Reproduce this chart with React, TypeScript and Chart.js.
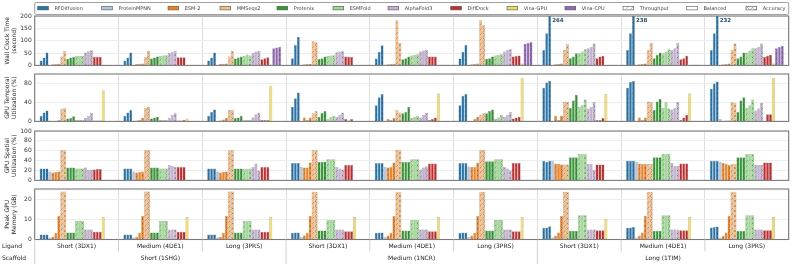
import React, { useEffect, useRef } from 'react';
import { Chart, registerables } from 'chart.js';
Chart.register(...registerables);

// ---------- categories ----------
const ligandLabels = ['Short (3DX1)', 'Medium (4DE1)', 'Long (3PRS)', 'Short (3DX1)', 'Medium (4DE1)', 'Long (3PRS)', 'Short (3DX1)', 'Medium (4DE1)', 'Long (3PRS)'];
const scaffoldLabels = ['Short (1SHG)', 'Medium (1NCR)', 'Long (1TIM)'];
const toolNames = ['RFDiffusion', 'ProteinMPNN', 'ESM-2', 'MMSeqs2', 'Protenix', 'ESMFold', 'AlphaFold3', 'DiffDock', 'Vina-GPU', 'Vina-CPU'];
const toolColors = ['#1f77b4', '#aec7e8', '#ff7f0e', '#ffbb78', '#2ca02c', '#98df8a', '#c5b0d5', '#d62728', '#f7dc5c', '#9467bd'];
const modeNames = ['Throughput', 'Balanced', 'Accuracy'];
// modes used by each tool's bars (0 Throughput, 1 Balanced, 2 Accuracy)
const toolModes = [[0, 1, 2], [1], [0, 1, 2], [0, 2], [0, 1, 2], [0, 1, 2], [0, 1, 2], [0, 1, 2], [1], [0, 1, 2]];

// ---------- Wall clock time (s), per group, per mode ----------
const wallRFDiffusion = [[20, 32, 52], [20, 32, 52], [20, 32, 52], [29, 83, 116], [28, 55, 82], [28, 55, 83], [62, 130, 264], [62, 130, 238], [62, 130, 232]];
const wallProteinMPNN = [[1], [1], [1], [1], [1], [1], [1], [1], [1]];
const wallESM2 = [[5, 6, 7], [6, 7, 8], [6, 7, 8], [5, 6, 7], [5, 6, 7], [5, 6, 8], [5, 6, 8], [5, 6, 8], [5, 6, 8]];
const wallMMseqs2 = [[36, 58], [35, 58], [36, 58], [98, 96], [183, 92], [183, 163], [62, 88], [63, 92], [63, 89]];
const wallProtenix = [[27, 32, 35], [28, 32, 36], [28, 32, 36], [27, 29, 36], [25, 29, 36], [27, 29, 36], [29, 36, 49], [29, 43, 52], [29, 36, 52]];
const wallESMFold = [[39, 39, 39], [38, 40, 41], [38, 44, 40], [39, 40, 41], [40, 43, 45], [40, 43, 45], [49, 56, 65], [49, 56, 65], [52, 60, 69]];
const wallAlphaFold3 = [[52, 57, 61], [50, 55, 58], [50, 56, 58], [53, 56, 57], [56, 60, 63], [56, 63, 65], [69, 76, 89], [62, 69, 92], [69, 76, 89]];
const wallDiffDock = [[35, 35, 35], [33, 33, 33], [25, 29, 33], [36, 35, 34], [36, 36, 36], [36, 38, 40], [29, 36, 39], [25, 29, 39], [34, 39, 43]];
const wallVinaGPU = [[1], [1], [4], [1], [1], [8], [1], [1], [8]];
const wallVinaCPU = [[2, 2, 2], [2, 2, 2], [69, 72, 76], [2, 2, 2], [3, 3, 3], [88, 92, 95], [2, 2, 2], [3, 3, 3], [69, 76, 80]];

// ---------- GPU temporal utilization (%) ----------
const tempRFDiffusion = [[12, 19, 23], [12, 19, 24], [12, 20, 25], [31, 49, 61], [34, 51, 58], [34, 54, 58], [71, 82, 86], [71, 83, 85], [69, 80, 84]];
const tempProteinMPNN = [[1], [1], [1], [1], [1], [1], [1], [1], [5]];
const tempESM2 = [[1, 1, 3], [2, 3, 7], [2, 4, 7], [8, 3, 8], [5, 3, 7], [1, 5, 10], [12, 3, 12], [8, 3, 8], [1, 2, 2]];
const tempMMseqs2 = [[26, 29], [29, 31], [24, 24], [17, 22], [24, 19], [14, 17], [41, 41], [42, 41], [41, 39]];
const tempProtenix = [[6, 7, 11], [6, 8, 10], [7, 8, 12], [10, 18, 22], [17, 20, 31], [17, 22, 25], [29, 44, 56], [24, 42, 48], [20, 44, 51]];
const tempESMFold = [[3, 3, 3], [3, 3, 3], [3, 3, 3], [5, 10, 12], [7, 10, 12], [5, 8, 14], [31, 34, 46], [29, 41, 27], [29, 34, 46]];
const tempAlphaFold3 = [[7, 12, 18], [7, 14, 18], [8, 15, 19], [10, 14, 18], [8, 14, 18], [10, 14, 20], [27, 31, 41], [25, 29, 41], [23, 27, 39]];
const tempDiffDock = [[2, 2, 2], [2, 2, 3], [3, 3, 3], [5, 2, 5], [3, 5, 8], [6, 8, 10], [3, 3, 7], [3, 8, 14], [1, 15, 15]];
const tempVinaGPU = [[65], [6], [75], [0], [59], [92], [58], [59], [92]];
const tempVinaCPU = [[null, null, null], [null, null, null], [null, null, null], [null, null, null], [null, null, null], [null, null, null], [null, null, null], [null, null, null], [null, null, null]];

// ---------- GPU spatial utilization (%) ----------
const spatRFDiffusion = [[24, 24, 24], [24, 24, 24], [24, 24, 24], [35, 35, 35], [35, 35, 35], [35, 35, 35], [40, 38, 40], [40, 40, 40], [40, 40, 40]];
const spatProteinMPNN = [[18], [18], [18], [27], [27], [28], [40], [38], [38]];
const spatESM2 = [[16, 17, 18], [16, 17, 18], [16, 17, 18], [26, 26, 36], [26, 27, 36], [27, 27, 36], [34, 33, 32], [34, 33, 33], [35, 33, 31]];
const spatMMseqs2 = [[61, 61], [61, 61], [61, 61], [62, 62], [62, 62], [62, 62], [32, 32], [33, 33], [33, 33]];
const spatProtenix = [[26, 26, 26], [26, 26, 26], [24, 24, 24], [38, 38, 38], [38, 38, 38], [39, 39, 39], [47, 47, 47], [47, 47, 47], [47, 47, 47]];
const spatESMFold = [[24, 24, 24], [24, 24, 24], [23, 23, 24], [43, 43, 43], [43, 43, 43], [43, 43, 43], [54, 54, 54], [54, 54, 54], [54, 54, 54]];
const spatAlphaFold3 = [[26, 21, 22], [31, 29, 27], [27, 34, 20], [27, 24, 22], [22, 26, 28], [27, 24, 20], [33, 33, 21], [35, 29, 29], [32, 31, 31]];
const spatDiffDock = [[22, 23, 23], [27, 27, 27], [27, 27, 27], [31, 31, 31], [34, 34, 34], [35, 35, 35], [32, 32, 32], [34, 34, 34], [36, 36, 36]];
const spatVinaGPU = [[null], [null], [null], [null], [null], [null], [null], [null], [null]];
const spatVinaCPU = [[null, null, null], [null, null, null], [null, null, null], [null, null, null], [null, null, null], [null, null, null], [null, null, null], [null, null, null], [null, null, null]];

// ---------- Peak GPU memory (GB) ----------
const memRFDiffusion = [[2.5, 2.5, 2.5], [2.5, 2.5, 2.5], [2.5, 2.5, 2.5], [3.3, 3.5, 3.5], [3.3, 3.5, 3.5], [3.3, 3.5, 3.5], [5.8, 6, 6.6], [5.8, 6, 6.2], [6, 6.2, 6.4]];
const memProteinMPNN = [[1], [1], [1], [1.3], [1.3], [1.3], [1], [1], [1]];
const memESM2 = [[1.3, 3.3, 11.6], [1.3, 3.3, 11.6], [1.3, 3.3, 11.6], [2, 3.3, 11.6], [2, 3.3, 11.6], [2, 3.3, 11.6], [1.8, 3.5, 11.6], [1.8, 3.5, 11.6], [1.8, 3.5, 11.6]];
const memMMseqs2 = [[23.8, 23.8], [23.8, 23.8], [23.8, 23.8], [23.6, 23.6], [23.6, 23.6], [23.6, 23.6], [23.6, 23.6], [23.6, 23.6], [23.6, 23.6]];
const memProtenix = [[3.5, 3.5, 3.5], [3.5, 3.5, 3.5], [3.5, 3.5, 3.5], [4.5, 4.5, 4.5], [4.5, 4.5, 4.5], [4.5, 4.5, 4.5], [4.3, 4.3, 4.3], [4.3, 4.3, 4.3], [4.3, 4.3, 4.3]];
const memESMFold = [[9.1, 9.1, 9.1], [9.1, 9.1, 9.1], [9.1, 9.1, 9.1], [9.6, 9.6, 9.6], [9.6, 9.6, 9.6], [9.6, 9.6, 9.6], [12, 12, 12], [12, 12, 12], [12, 12, 12]];
const memAlphaFold3 = [[5, 5, 5], [5, 5, 5], [5, 5, 5], [5, 5, 5], [5, 5, 5], [5, 5, 5], [5, 5, 5], [5, 5, 5], [5, 5, 5]];
const memDiffDock = [[3.8, 3.8, 3.8], [3.8, 3.8, 3.8], [3.8, 3.8, 3.8], [4.1, 4.1, 4.1], [4.1, 4.1, 4.1], [4.1, 4.1, 4.1], [4.6, 4.6, 4.6], [4.6, 4.6, 4.6], [4.6, 4.6, 4.6]];
const memVinaGPU = [[11.2], [11.2], [11.2], [11.2], [11.2], [11.2], [10.2], [11.2], [11.2]];
const memVinaCPU = [[null, null, null], [null, null, null], [null, null, null], [null, null, null], [null, null, null], [null, null, null], [null, null, null], [null, null, null], [null, null, null]];

// ---------- axis settings ----------
const panelTitles = [['Wall Clock Time', '(second)'], ['GPU Temporal', 'Utilization (%)'], ['GPU Spatial', 'Utilization (%)'], ['Peak GPU', 'Memory (GB)']];
const panelMax = [200, 100, 100, 25];
const panelStep = [50, 20, 20, 10];

const metricSets = [
  [wallRFDiffusion, wallProteinMPNN, wallESM2, wallMMseqs2, wallProtenix, wallESMFold, wallAlphaFold3, wallDiffDock, wallVinaGPU, wallVinaCPU],
  [tempRFDiffusion, tempProteinMPNN, tempESM2, tempMMseqs2, tempProtenix, tempESMFold, tempAlphaFold3, tempDiffDock, tempVinaGPU, tempVinaCPU],
  [spatRFDiffusion, spatProteinMPNN, spatESM2, spatMMseqs2, spatProtenix, spatESMFold, spatAlphaFold3, spatDiffDock, spatVinaGPU, spatVinaCPU],
  [memRFDiffusion, memProteinMPNN, memESM2, memMMseqs2, memProtenix, memESMFold, memAlphaFold3, memDiffDock, memVinaGPU, memVinaCPU],
];

// ---------- layout (canvas placement) ----------
const W = 793;
const PLOT_LEFT = 34.7;
const PLOT_RIGHT = 788.7;
const canvases = [
  { top: 0, height: 72, padTop: 16, padBottom: 6, xH: 0 },
  { top: 66, height: 62, padTop: 8, padBottom: 5, xH: 0 },
  { top: 123, height: 64, padTop: 8, padBottom: 5, xH: 0 },
  { top: 181, height: 83, padTop: 8, padBottom: 0, xH: 24.5 },
];
const FONT = 'DejaVu Sans';
const legendX = [37.7, 101.7, 168, 220, 277, 333, 388, 450.7, 507, 565, 623, 686.7, 746];

function makePattern(ctx: CanvasRenderingContext2D, color: string, mode: number): any {
  if (mode === 1) return color;
  const c = document.createElement('canvas');
  c.width = 5; c.height = 5;
  const x = c.getContext('2d')!;
  x.fillStyle = color;
  x.fillRect(0, 0, 5, 5);
  x.strokeStyle = 'rgba(40,40,40,0.45)';
  x.lineWidth = 0.6;
  x.beginPath();
  x.moveTo(0, 5); x.lineTo(5, 0);
  x.moveTo(-2.5, 2.5); x.lineTo(2.5, -2.5);
  x.moveTo(2.5, 7.5); x.lineTo(7.5, 2.5);
  if (mode === 2) {
    x.moveTo(0, 0); x.lineTo(5, 5);
    x.moveTo(-2.5, 2.5); x.lineTo(2.5, 7.5);
    x.moveTo(2.5, -2.5); x.lineTo(7.5, 2.5);
  }
  x.stroke();
  return ctx.createPattern(c, 'repeat');
}

function buildDatasets(ctx: CanvasRenderingContext2D, metric: (number | null)[][][]) {
  const ds: any[] = [];
  toolNames.forEach((tool, t) => {
    toolModes[t].forEach((mode, k) => {
      ds.push({
        label: `${tool} ${modeNames[mode]}`,
        data: metric[t].map((g) => (g[k] === undefined ? null : g[k])),
        backgroundColor: makePattern(ctx, toolColors[t], mode),
        borderColor: 'rgba(70,70,70,0.55)',
        borderWidth: 0.5,
      });
    });
  });
  return ds;
}

const framePlugin = {
  id: 'frame',
  afterDraw(chart: any) {
    const { ctx, chartArea: a } = chart;
    ctx.save();
    ctx.strokeStyle = '#7a7a7a';
    ctx.lineWidth = 1.1;
    ctx.strokeRect(a.left, a.top, a.right - a.left, a.bottom - a.top);
    ctx.restore();
  },
};

const legendPlugin = {
  id: 'topLegend',
  afterDraw(chart: any) {
    const { ctx } = chart;
    ctx.save();
    ctx.strokeStyle = '#a0a0a0';
    ctx.lineWidth = 1;
    ctx.beginPath();
    ctx.roundRect(PLOT_LEFT, 2.5, PLOT_RIGHT - PLOT_LEFT, 12, 1.5);
    ctx.stroke();
    const items = [
      ...toolNames.map((n, i) => ({ label: n, fill: toolColors[i] as any })),
      ...modeNames.map((n, i) => ({ label: n, fill: makePattern(ctx, '#ffffff', i) })),
    ];
    ctx.font = `5px "${FONT}"`;
    ctx.textBaseline = 'middle';
    items.forEach((it, i) => {
      const x = legendX[i];
      ctx.fillStyle = it.fill;
      ctx.fillRect(x, 6.3, 10.7, 3.6);
      ctx.strokeStyle = '#555';
      ctx.lineWidth = 0.6;
      ctx.strokeRect(x, 6.3, 10.7, 3.6);
      ctx.fillStyle = '#444';
      ctx.fillText(it.label, x + 16.7, 8.3);
    });
    ctx.restore();
  },
};

const overflowPlugin = {
  id: 'overflow',
  afterDatasetsDraw(chart: any) {
    const { ctx, chartArea: a } = chart;
    const max = chart.scales.y.max;
    ctx.save();
    ctx.font = `bold 5.5px "${FONT}"`;
    ctx.fillStyle = '#1f4e79';
    ctx.textBaseline = 'middle';
    chart.data.datasets.forEach((ds: any, di: number) => {
      const meta = chart.getDatasetMeta(di);
      ds.data.forEach((v: any, j: number) => {
        if (v !== null && v > max) {
          const el = meta.data[j];
          ctx.fillText(String(v), el.x + el.width / 2 + 1, a.top + 5);
        }
      });
    });
    ctx.restore();
  },
};

const bottomPlugin = {
  id: 'bottomLabels',
  afterDraw(chart: any) {
    const { ctx, chartArea: a, scales } = chart;
    const x = scales.x;
    const step = (a.right - a.left) / 9;
    ctx.save();
    ctx.strokeStyle = '#cfcfcf';
    ctx.lineWidth = 1;
    for (let i = 0; i < 9; i++) {
      const xx = a.left + i * step;
      const bottom = i % 3 === 0 ? chart.height : a.bottom + 12;
      ctx.beginPath();
      ctx.moveTo(xx, a.bottom);
      ctx.lineTo(xx, bottom);
      ctx.stroke();
    }
    ctx.font = `6px "${FONT}"`;
    ctx.fillStyle = '#222';
    ctx.textBaseline = 'middle';
    ctx.textAlign = 'left';
    ctx.fillText('Ligand', 2, a.bottom + 6.6);
    ctx.fillText('Scaffold', 2, a.bottom + 18.6);
    ctx.textAlign = 'center';
    scaffoldLabels.forEach((s, i) => {
      ctx.fillText(s, x.getPixelForValue(i * 3 + 1), a.bottom + 18.6);
    });
    ctx.restore();
  },
};

function makeConfig(ctx: CanvasRenderingContext2D, p: number): any {
  const c = canvases[p];
  const isLast = p === 3;
  const plugins: any[] = [framePlugin];
  if (p === 0) plugins.push(legendPlugin, overflowPlugin);
  if (isLast) plugins.push(bottomPlugin);
  return {
    type: 'bar',
    data: { labels: ligandLabels, datasets: buildDatasets(ctx, metricSets[p] as any) },
    plugins,
    options: {
      animation: false,
      responsive: false,
      devicePixelRatio: 1,
      events: [],
      layout: { padding: { left: 0, right: W - PLOT_RIGHT, top: c.padTop, bottom: c.padBottom } },
      datasets: { bar: { categoryPercentage: 0.883, barPercentage: 1 } },
      plugins: { legend: { display: false }, tooltip: { enabled: false } },
      scales: {
        x: {
          type: 'category',
          offset: true,
          grid: { offset: true, color: '#dedede', lineWidth: 1, drawTicks: false },
          border: { display: false },
          ticks: {
            display: isLast,
            autoSkip: false,
            maxRotation: 0,
            padding: 3,
            color: '#222',
            font: { family: FONT, size: 6 },
          },
          afterFit: (s: any) => { s.height = c.xH; },
        },
        y: {
          min: 0,
          max: panelMax[p],
          ticks: { stepSize: panelStep[p], color: '#333', padding: 3, font: { family: FONT, size: 6 } },
          afterBuildTicks: (s: any) => { s.ticks = s.ticks.filter((t: any) => t.value % panelStep[p] === 0); },
          grid: { color: '#ededed', lineWidth: 1, drawTicks: false },
          border: { display: false },
          title: {
            display: true,
            text: panelTitles[p],
            color: '#222',
            font: { family: FONT, size: 6, lineHeight: 1.2 },
            padding: { top: 3.4, bottom: 0 },
          },
          afterFit: (s: any) => { s.width = PLOT_LEFT; },
        },
      },
    },
  };
}

export default function App() {
  const refs = [useRef<HTMLCanvasElement>(null), useRef<HTMLCanvasElement>(null), useRef<HTMLCanvasElement>(null), useRef<HTMLCanvasElement>(null)];
  useEffect(() => {
    const charts: Chart[] = [];
    refs.forEach((r, p) => {
      const cv = r.current!;
      const ctx = cv.getContext('2d')!;
      charts.push(new Chart(ctx, makeConfig(ctx, p)));
    });
    return () => charts.forEach((c) => c.destroy());
  }, []);
  return (
    <div style={{ position: 'fixed', left: 0, top: 0, width: W, height: 264, background: '#fff', overflow: 'hidden' }}>
      {canvases.map((c, i) => (
        <canvas
          key={i}
          ref={refs[i]}
          width={W}
          height={c.height}
          style={{ position: 'absolute', left: 0, top: c.top, width: W, height: c.height }}
        />
      ))}
    </div>
  );
}
